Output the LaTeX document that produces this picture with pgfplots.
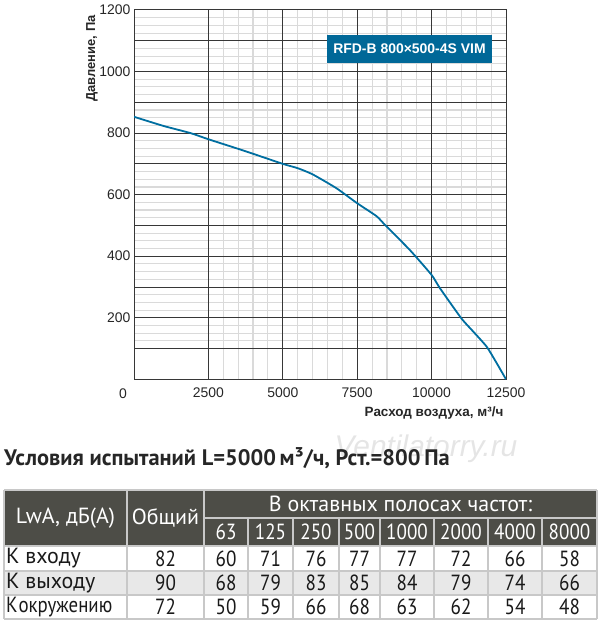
\documentclass[border=0pt]{standalone}
\usepackage{fontspec}
\setmainfont{Liberation Sans}
\newfontfamily\tbl{PT Sans}
\newfontfamily\tbln[FakeStretch=0.87]{PT Sans}
\usepackage{pgfplots}
\usepackage{pgfplotstable}
\pgfplotsset{compat=1.18}
\definecolor{curve}{RGB}{0,110,160}
\definecolor{boxblue}{RGB}{0,104,152}
\definecolor{hdr}{RGB}{77,77,71}
\definecolor{rowgray}{RGB}{232,232,232}
\definecolor{tline}{RGB}{200,200,200}
\definecolor{majgrid}{RGB}{55,55,55}
\definecolor{mingrid}{RGB}{218,218,218}
\pgfplotstableread{
x y
0 853
1000 823
1900 800
2500 780
3750 741
5000 700
5500 686
6000 666
6800 621
7500 572
8150 530
8450 500
9270 420
10000 339
10280 296
11000 198
11400 155
11850 106
12190 52
12500 0
}\curvedata
\begin{document}
\begin{tikzpicture}
\path[use as bounding box] (0,0) rectangle (600bp,627bp);
\begin{axis}[
  at={(134bp,247.7bp)}, anchor=south west,
  scale only axis, width=372bp, height=369.3bp,
  xmin=0, xmax=12500, ymin=0, ymax=1200,
  xtick={2500,5000,7500,10000,12500},
  ytick={100,200,...,1200},
  yticklabels={,200,,400,,600,,800,,1000,,1200},
  scaled x ticks=false, scaled y ticks=false,
  minor x tick num=4, minor y tick num=3,
  major tick length=0pt, minor tick length=0pt,
  grid=minor,
  minor grid style={mingrid, line width=1.1bp},
  axis line style={majgrid, line width=1bp},
  tick label style={font=\fontsize{14}{16}\selectfont, text=black!85},
  xticklabel style={yshift=-5bp},
  /pgf/number format/.cd, 1000 sep={}, assume math mode=true,
]
\pgfplotsinvokeforeach{2500,5000,7500,10000}{
  \draw[majgrid, line width=0.9bp] (axis cs:#1,0) -- (axis cs:#1,1200);
}
\pgfplotsinvokeforeach{100,200,300,400,500,600,700,800,900,1000,1100}{
  \draw[majgrid, line width=0.9bp] (axis cs:0,#1) -- (axis cs:12500,#1);
}
\addplot[curve, line width=1.8bp, smooth, tension=0.35] table {\curvedata};
\node[fill=boxblue, text=white, font=\bfseries\fontsize{14}{16}\selectfont, minimum width=165bp, minimum height=28bp, inner sep=0pt] at (axis cs:9257,1074) {RFD-B 800×500-4S VIM};
\end{axis}
% axis labels
\node[font=\bfseries\fontsize{13.5}{15}\selectfont, text=black!85] at (434bp,214bp) {Расход воздуха, м³/ч};
\node[rotate=90, font=\bfseries\fontsize{13}{15}\selectfont, text=black!85] at (92bp,568.5bp) {Давление, Па};
\node[font=\fontsize{14}{16}\selectfont, text=black!85] at (123bp,233bp) {0};
% watermark
\node[font=\itshape\fontsize{30}{32}\selectfont, text=black!10] at (426bp,178bp) {Ventilatorry.ru};
% title
\node[anchor=west, inner sep=0pt, font=\tbl\bfseries\fontsize{22.5}{24}\selectfont, text=black!85] at (4bp,169bp) {Условия испытаний L=5000\,м³/ч, Рст.=800\,Па};
% table fills
\fill[hdr] (4bp,81bp) rectangle (597bp,137bp);
\fill[rowgray] (4bp,32bp) rectangle (597bp,56bp);
\begin{scope}[draw=tline, line width=1.3bp]
\foreach \yy in {137,81,56,32,8} \draw (4bp,\yy bp) -- (597bp,\yy bp);
\draw (204bp,109bp) -- (597bp,109bp);
\foreach \xx in {4,127,204,597} \draw (\xx bp,8bp) -- (\xx bp,137bp);
\foreach \xx in {248,293,339,380,434,488,542} \draw (\xx bp,8bp) -- (\xx bp,109bp);
\end{scope}
\begin{scope}[every node/.style={font=\tbl\fontsize{22}{24}\selectfont, inner sep=0pt}]
\node[text=white] at (65.5bp,109bp) {LwA, дБ(А)};
\node[text=white] at (165.5bp,109bp) {Общий};
\node[text=white] at (400.5bp,123bp) {В октавных полосах частот:};
\foreach \xc/\t in {226/63,270.5/125,316/250,359.5/500,407/1000,461/2000,515/4000,569.5/8000}
  \node[text=white, font=\tbln\fontsize{22}{24}\selectfont] at (\xc bp,95bp) {\t};
\node[anchor=west, text=black!90] at (6bp,68.5bp) {К входу};
\node[anchor=west, text=black!90] at (6bp,44bp) {К выходу};
\node[anchor=west, text=black!90] at (6bp,20bp) {\scalebox{0.86}[1]{К\kern1bp окружению}};
\end{scope}
\begin{scope}[every node/.style={font=\tbln\fontsize{22}{24}\selectfont, inner sep=0pt, text=black!90}]
\foreach \yc/\a/\b/\c/\d/\e/\f/\g/\h/\i in {68.5/82/60/71/76/77/77/72/66/58, 44/90/68/79/83/85/84/79/74/66, 20/72/50/59/66/68/63/62/54/48}{
  \node at (165.5bp,\yc bp) {\a};
  \node at (226bp,\yc bp) {\b};
  \node at (270.5bp,\yc bp) {\c};
  \node at (316bp,\yc bp) {\d};
  \node at (359.5bp,\yc bp) {\e};
  \node at (407bp,\yc bp) {\f};
  \node at (461bp,\yc bp) {\g};
  \node at (515bp,\yc bp) {\h};
  \node at (569.5bp,\yc bp) {\i};
}
\end{scope}
\end{tikzpicture}
\end{document}
